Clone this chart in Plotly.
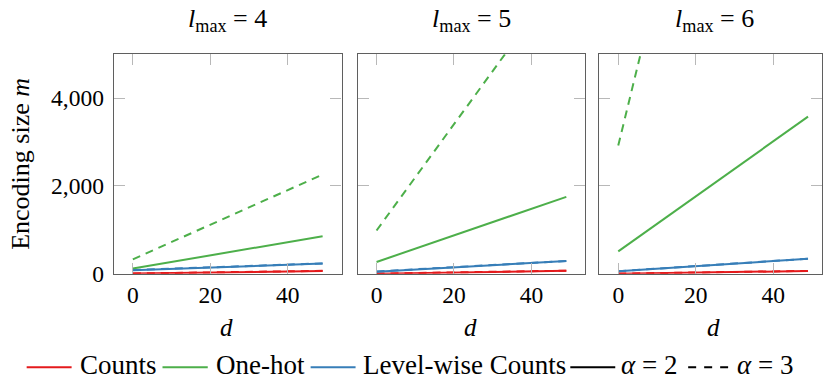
import plotly.graph_objects as go

# ---- data ----
d_vals = [0, 10, 20, 30, 40, 49]
panels = ["4", "5", "6"]

counts_a2 = {"4": [5, 17, 29, 41, 53, 65], "5": [3, 17, 31, 44, 58, 70], "6": [3, 16, 28, 41, 53, 65]}
counts_a3 = {"4": [8, 20, 32, 44, 56, 68], "5": [5, 19, 33, 46, 60, 72], "6": [5, 18, 30, 43, 55, 67]}
onehot_a2 = {"4": [120, 270, 420, 570, 720, 855], "5": [270, 572, 874, 1176, 1478, 1752],
             "6": [510, 1136, 1762, 2388, 3014, 3577]}
onehot_a3 = {"4": [330, 724, 1118, 1512, 1906, 2260], "5": [986, 2196, 3406, 4616, 5826, 6914],
             "6": [2920, 6530, 10140, 13750, 17360, 20610]}
levelwise_a2 = {"4": [80, 112, 143, 175, 206, 235], "5": [50, 99, 148, 197, 246, 291],
                "6": [57, 115, 173, 231, 290, 342]}
levelwise_a3 = {"4": [85, 116, 147, 178, 209, 238], "5": [55, 103, 151, 199, 247, 292],
                "6": [60, 118, 176, 234, 292, 344]}
x_ticks = [0, 20, 40]
y_ticks = [0, 2000, 4000]

methods = [
    ("Counts", "#e41a1c", counts_a2, counts_a3),
    ("One-hot", "#4daf4a", onehot_a2, onehot_a3),
    ("Level-wise Counts", "#377eb8", levelwise_a2, levelwise_a3),
]

W, H = 823, 389
FONT = "Liberation Serif"


def X(px):
    return px / W


def Y(py):
    return (H - py) / H


boxes = [(114, 342), (358, 586), (600, 828)]
top_px, bot_px = 56, 283.3
xr = [-4.9, 53.9]

fig = go.Figure()
for i, lm in enumerate(panels):
    xa = "x" if i == 0 else f"x{i+1}"
    ya = "y" if i == 0 else f"y{i+1}"
    for name, col, a2, a3 in methods:
        fig.add_trace(go.Scatter(x=d_vals, y=a3[lm], mode="lines", xaxis=xa, yaxis=ya,
                                 line=dict(color=col, width=2, dash="8px,6px"),
                                 showlegend=False, hoverinfo="skip"))
    for name, col, a2, a3 in methods:
        fig.add_trace(go.Scatter(x=d_vals, y=a2[lm], mode="lines", xaxis=xa, yaxis=ya,
                                 line=dict(color=col, width=2),
                                 showlegend=False, hoverinfo="skip"))

axis_common = dict(showline=True, linecolor="#5f5f5f", linewidth=1.4, mirror="allticks",
                   ticks="inside", ticklen=11, tickcolor="#b8b8b8", tickwidth=1,
                   showgrid=False, zeroline=False,
                   tickfont=dict(family=FONT, size=23.5, color="black"))
layout = dict(width=W, height=H, margin=dict(l=0, r=0, t=0, b=0),
              plot_bgcolor="white", paper_bgcolor="white", showlegend=False,
              font=dict(family=FONT, size=23, color="black"))
annotations = []
shapes = []
title_cx = [228, 472, 715]
for i, (l, r) in enumerate(boxes):
    suffix = "" if i == 0 else str(i + 1)
    xmax = xr[0] + (xr[1] - xr[0]) * (min(r, W) - l) / (r - l)
    layout["xaxis" + suffix] = dict(axis_common, domain=[X(l), min(X(r), 1.0)],
                                    range=[xr[0], xmax] if r > W else xr,
                                    tickvals=x_ticks, anchor="y" + suffix)
    layout["yaxis" + suffix] = dict(axis_common, domain=[Y(bot_px), Y(top_px)], range=[0, 5000],
                                    tickvals=y_ticks, tickformat=",", ticklabelstandoff=4,
                                    showticklabels=(i == 0), anchor="x" + suffix)
    annotations.append(dict(text=f"<i>l</i><sub>max</sub> = {panels[i]}", x=X(title_cx[i]), y=Y(21),
                            xref="paper", yref="paper", showarrow=False,
                            xanchor="center", yanchor="middle", font=dict(family=FONT, size=26)))
    annotations.append(dict(text="<i>d</i>", x=X(title_cx[i] - 1), y=Y(339),
                            xref="paper", yref="paper", showarrow=False,
                            xanchor="center", yanchor="middle", font=dict(family=FONT, size=25)))
annotations.append(dict(text="Encoding size <i>m</i>", x=X(21), y=Y(169.5),
                        xref="paper", yref="paper", showarrow=False, textangle=-90,
                        xanchor="center", yanchor="middle", font=dict(family=FONT, size=26)))

# legend drawn as line samples + text
legend_items = [
    ("Counts", "#e41a1c", "solid", 26.7, 71.7, 79),
    ("One-hot", "#4daf4a", "solid", 162.7, 208, 215),
    ("Level-wise Counts", "#377eb8", "solid", 311, 356, 362),
    ("<i>α</i> = 2", "black", "solid", 571, 616, 621),
    ("<i>α</i> = 3", "black", "8px,8px", 689, 729, 737),
]
for text, col, dash, lx0, lx1, tx in legend_items:
    shapes.append(dict(type="line", xref="paper", yref="paper", x0=X(lx0), x1=X(lx1),
                       y0=Y(380), y1=Y(380), line=dict(color=col, width=2, dash=dash)))
    annotations.append(dict(text=text, x=X(tx - 1), y=Y(378), xref="paper", yref="paper",
                            showarrow=False, xanchor="left", yanchor="middle",
                            font=dict(family=FONT, size=27)))

layout["annotations"] = annotations
layout["shapes"] = shapes
fig.update_layout(**layout)
fig.write_html("out.html", config={"displayModeBar": False},
               post_script="document.body.style.margin='0';document.body.style.overflow='hidden';")
